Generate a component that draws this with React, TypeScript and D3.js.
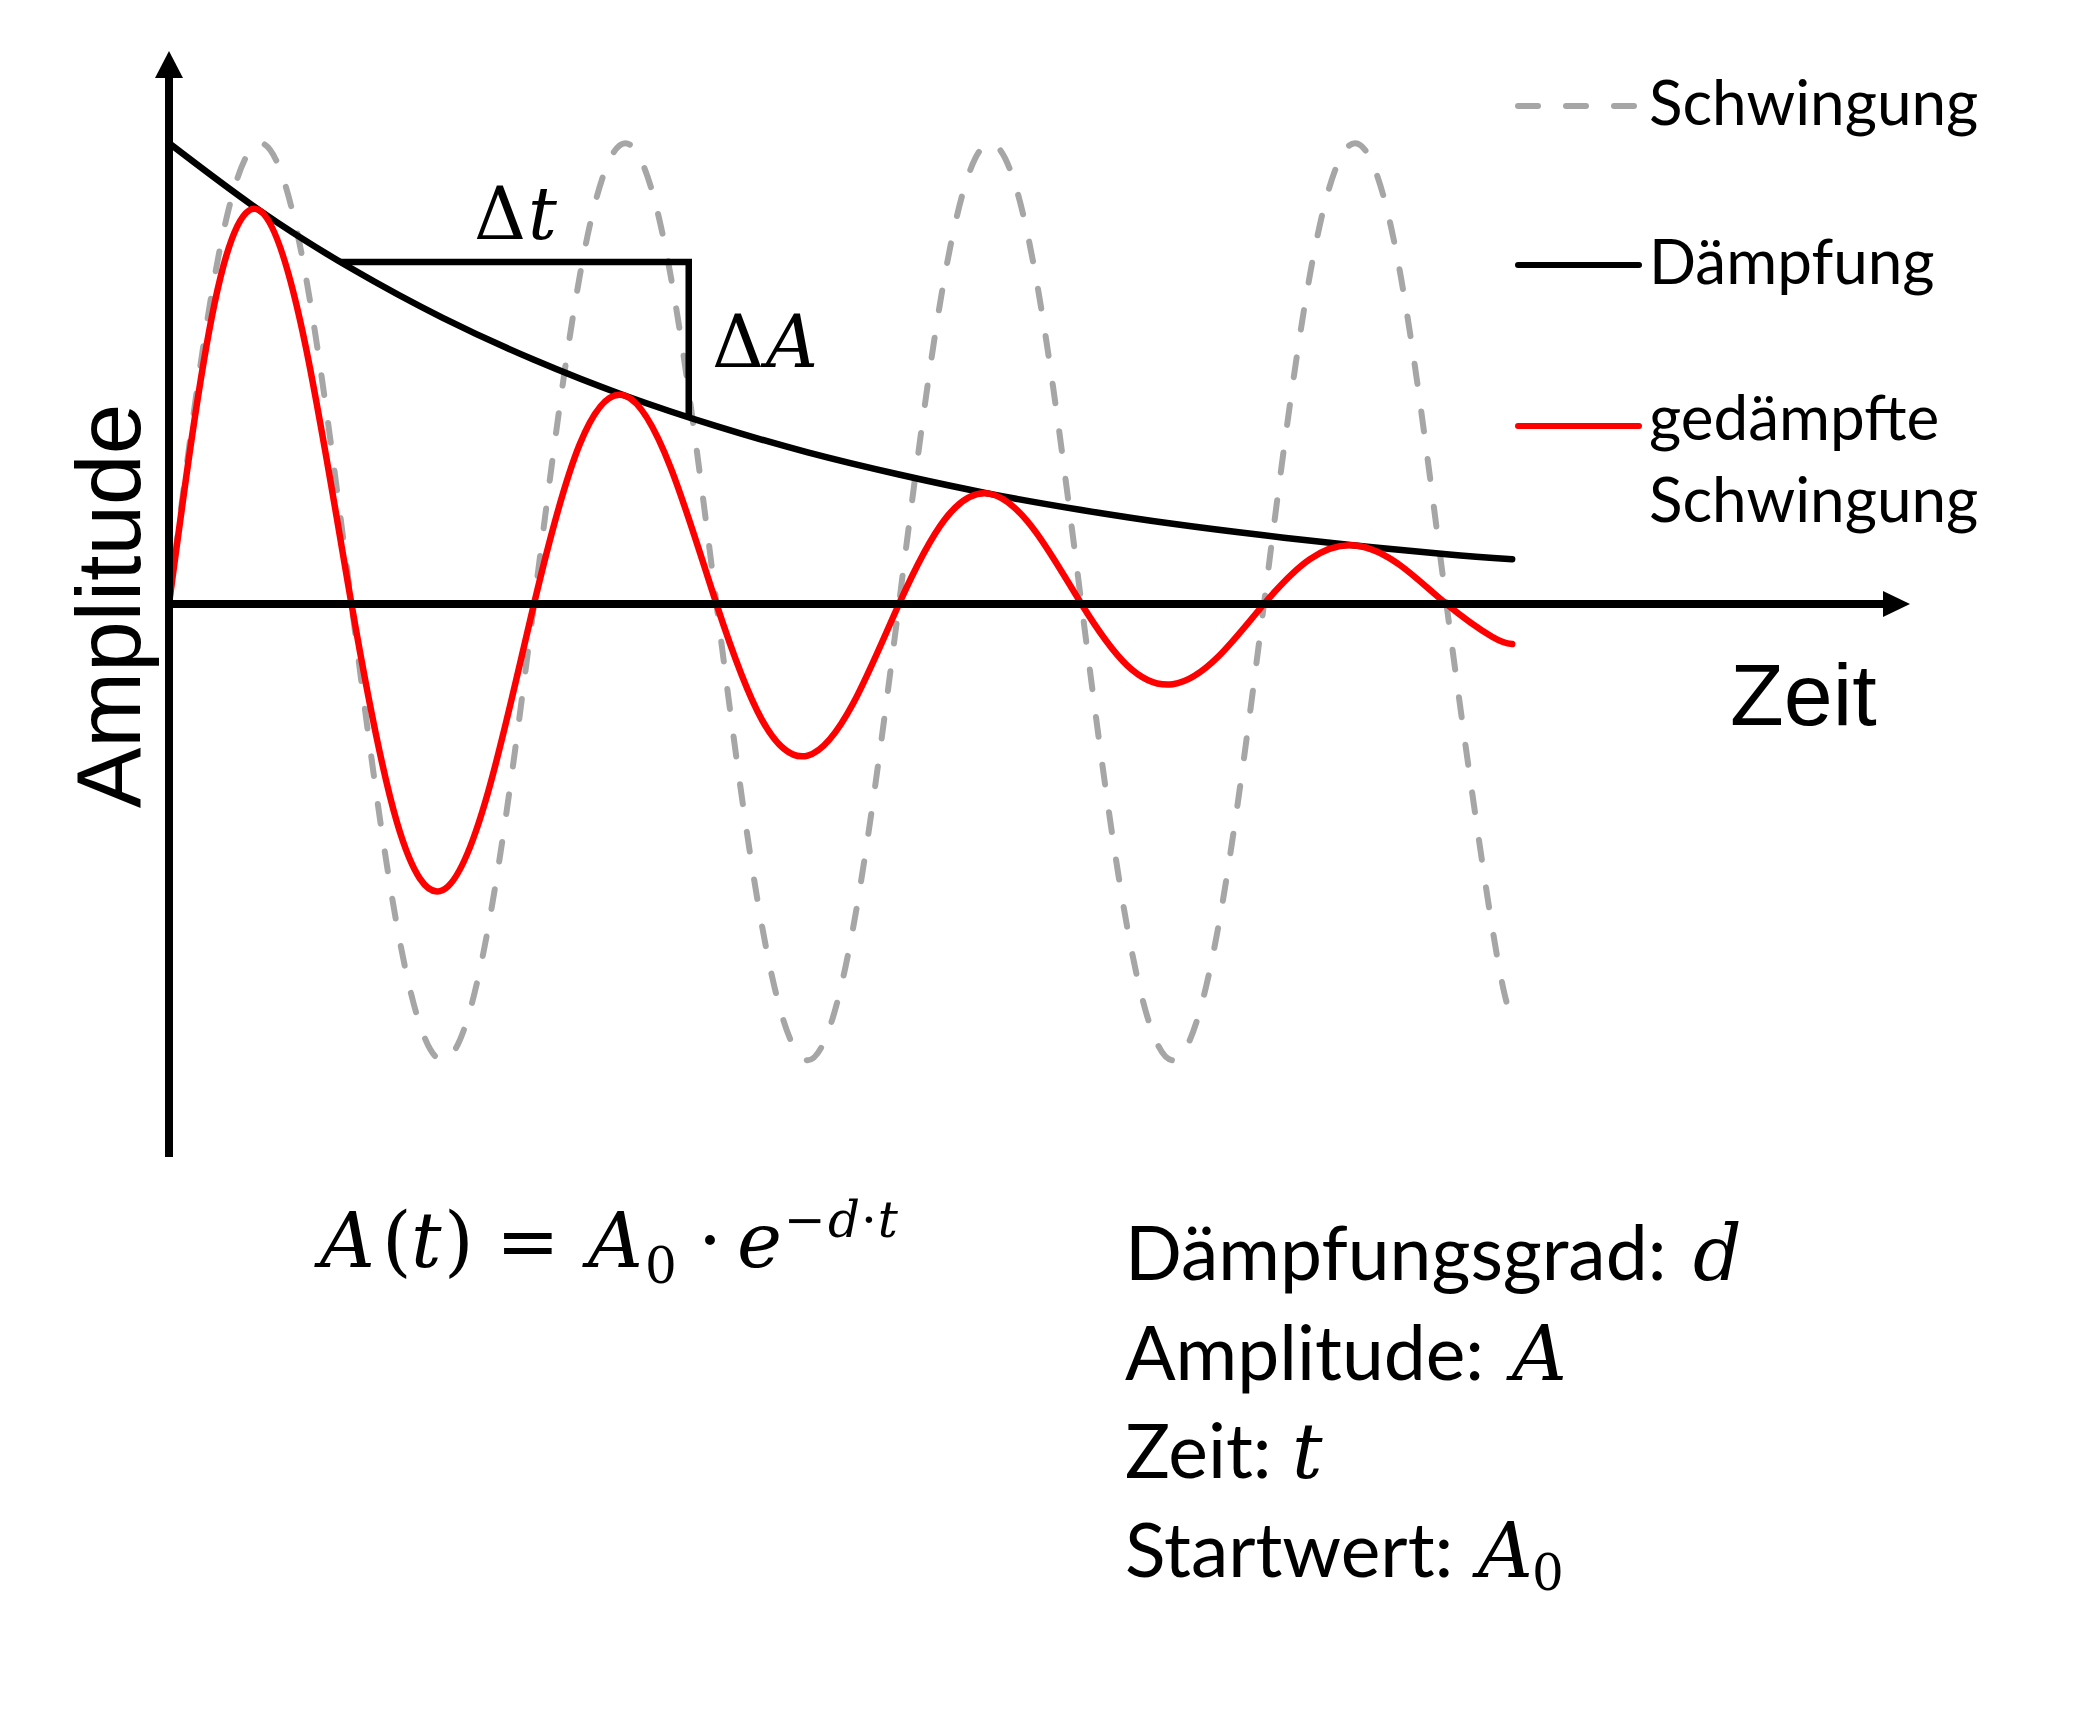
import * as d3 from "d3";
import React from "react";

// time axis (arbitrary units, one period = 10)
const timeSamples = [
  0, 1.25, 2.5, 3.75, 5, 6.25, 7.5, 8.75, 10, 11.25, 12.5, 13.75, 15, 16.25, 17.5,
  18.75, 20, 21.25, 22.5, 23.75, 25, 26.25, 27.5, 28.75, 30, 31.25, 32.5, 33.75, 35,
  36.25, 36.8,
];
// undamped oscillation (grey dashed)
const schwingung = [
  0, 0.71, 1, 0.71, 0, -0.7, -0.99, -0.7, 0, 0.71, 1, 0.71, 0, -0.7, -0.99, -0.7,
  0, 0.71, 1, 0.71, 0, -0.7, -0.99, -0.7, 0, 0.71, 1, 0.71, 0, -0.7, -0.9,
];
// damped oscillation (red)
const gedaempft = [
  0, 0.653, 0.853, 0.557, 0, -0.475, -0.621, -0.406, 0, 0.346, 0.452, 0.295, 0,
  -0.252, -0.329, -0.215, 0, 0.183, 0.239, 0.156, 0, -0.133, -0.174, -0.114, 0,
  0.097, 0.127, 0.083, 0, -0.071, -0.087,
];
// envelope (black)
const envelopeTime = [0, 2.5, 5, 7.5, 10, 12.5, 15, 17.5, 20, 22.5, 25, 27.5, 30, 32.5, 35, 36.8];
const daempfung = [
  1, 0.853, 0.728, 0.621, 0.53, 0.452, 0.386, 0.329, 0.281, 0.239, 0.204, 0.174,
  0.149, 0.127, 0.108, 0.097,
];
// Δt / ΔA bracket
const deltaT = [4.7, 14.24];
const deltaA = [0.742, 0.405];

const legendLabels = [["Schwingung"], ["Dämpfung"], ["gedämpfte", "Schwingung"]];
const legendColors = ["#a6a6a6", "#000000", "#ff0000"];
const legendDash = ["20,28", null, null];

const W = 2090;
const H = 1721;
const SANS = "Lato, 'Noto Sans', sans-serif";
const AXIS_FONT = "'Liberation Sans', Arial, sans-serif";
const MATH = "'DejaVu Serif', 'Liberation Serif', serif";

export default function App() {
  const x = d3.scaleLinear().domain([0, 47.7]).range([169, 1910]);
  const y = d3.scaleLinear().domain([-1.2, 1.2]).range([1157, 51]);

  const line = d3
    .line<[number, number]>()
    .x((d) => x(d[0]))
    .y((d) => y(d[1]))
    .curve(d3.curveNatural);

  const dashedPath = line(timeSamples.map((t, i) => [t, schwingung[i]]));
  const redPath = line(timeSamples.map((t, i) => [t, gedaempft[i]]));
  const envPath = line(envelopeTime.map((t, i) => [t, daempfung[i]]));

  const x0 = x(0);
  const y0 = y(0);
  const yTop = y(1.2);
  const xEnd = x(47.7);

  const legendX = 1518;
  const legendY = [106, 265, 426];

  return (
    <svg width={W} height={H} style={{ position: "absolute", left: 0, top: 0, background: "#fff" }}>
      <rect width={W} height={H} fill="#fff" />

      {/* curves */}
      <path d={dashedPath!} fill="none" stroke="#a6a6a6" strokeWidth={6}
        strokeDasharray="20,28" strokeLinecap="round" />
      <path d={envPath!} fill="none" stroke="#000" strokeWidth={6.5} strokeLinecap="round" />
      <path d={redPath!} fill="none" stroke="#ff0000" strokeWidth={6.5} strokeLinecap="round" />

      {/* axes */}
      <line x1={x0} y1={y(-1.2)} x2={x0} y2={yTop + 25} stroke="#000" strokeWidth={8} />
      <polygon points={`${x0},${yTop} ${x0 - 14},${yTop + 27} ${x0 + 14},${yTop + 27}`} fill="#000" />
      <line x1={x0 - 4} y1={y0} x2={xEnd - 25} y2={y0} stroke="#000" strokeWidth={8} />
      <polygon points={`${xEnd},${y0} ${xEnd - 27},${y0 - 13} ${xEnd - 27},${y0 + 13}`} fill="#000" />

      {/* Δt / ΔA bracket */}
      <polyline
        points={`${x(deltaT[0])},${y(deltaA[0])} ${x(deltaT[1])},${y(deltaA[0])} ${x(deltaT[1])},${y(deltaA[1])}`}
        fill="none" stroke="#000" strokeWidth={6.5} />
      <g fontFamily={MATH} fontSize={72}>
        <text x={474} y={239}>Δ<tspan fontStyle="italic" dx={2}>t</tspan></text>
        <text x={712} y={367}>Δ<tspan fontStyle="italic" dx={2}>A</tspan></text>
      </g>

      {/* axis labels */}
      <text transform="translate(140,606) rotate(-90)" textAnchor="middle"
        fontFamily={AXIS_FONT} fontSize={91}>Amplitude</text>
      <text x={1730} y={725} fontFamily={AXIS_FONT} fontSize={88}>Zeit</text>

      {/* legend */}
      {legendLabels.map((lab, i) => (
        <g key={i}>
          <line x1={legendX} x2={1639} y1={legendY[i]} y2={legendY[i]}
            stroke={legendColors[i]} strokeWidth={6} strokeLinecap="round"
            strokeDasharray={legendDash[i] ?? undefined} />
          {lab.map((s, j) => (
            <text key={j} x={1649} y={legendY[i] + (i === 2 ? 14 : 19) + j * 82}
              fontFamily={SANS} fontSize={62}>{s}</text>
          ))}
        </g>
      ))}

      {/* formula */}
      <g fontFamily={MATH} fontSize={76}>
        <text x={320} y={1267} fontStyle="italic">A</text>
        <text x={382} y={1267}>(</text>
        <text x={411} y={1267} fontStyle="italic">t</text>
        <text x={444} y={1267}>)</text>
        <text x={496} y={1267}>=</text>
        <text x={588} y={1267} fontStyle="italic">A</text>
        <text x={645} y={1283} fontSize={50}>0</text>
        <text x={698} y={1267}>·</text>
        <text x={737} y={1267} fontStyle="italic">e</text>
        <text x={784} y={1237} fontSize={50}>
          −<tspan fontStyle="italic" dx={2}>d</tspan>
          <tspan dx={1}>·</tspan>
          <tspan fontStyle="italic" dx={1}>t</tspan>
        </text>
      </g>

      {/* definitions */}
      <g fontFamily={SANS} fontSize={75}>
        <text x={1125} y={1280}>Dämpfungsgrad:</text>
        <text x={1693} y={1280} fontFamily={MATH} fontStyle="italic" fontSize={76}>d</text>
        <text x={1125} y={1380}>Amplitude:</text>
        <text x={1512} y={1380} fontFamily={MATH} fontStyle="italic" fontSize={76}>A</text>
        <text x={1125} y={1478}>Zeit:</text>
        <text x={1292} y={1478} fontFamily={MATH} fontStyle="italic" fontSize={76}>t</text>
        <text x={1125} y={1577}>Startwert:</text>
        <text x={1478} y={1577} fontFamily={MATH} fontStyle="italic" fontSize={76}>A</text>
        <text x={1532} y={1590} fontFamily={MATH} fontSize={50}>0</text>
      </g>
    </svg>
  );
}
